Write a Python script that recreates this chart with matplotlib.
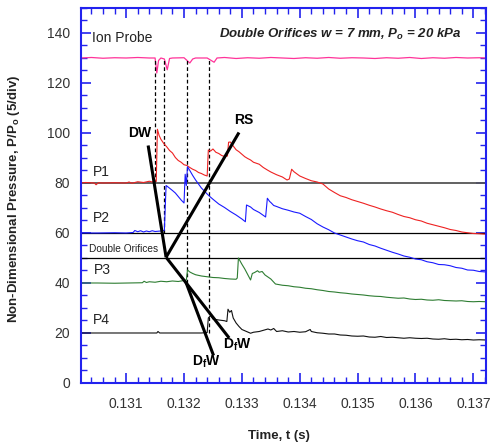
import numpy as np
import matplotlib.pyplot as plt
from matplotlib.ticker import MultipleLocator

plt.rcParams['font.family'] = ['Liberation Sans', 'DejaVu Sans']
plt.rcParams['mathtext.fontset'] = 'custom'
plt.rcParams['mathtext.rm'] = 'Liberation Sans'
plt.rcParams['mathtext.bf'] = 'Liberation Sans:bold'
plt.rcParams['mathtext.it'] = 'Liberation Sans:italic:bold'

# traces: (time s, P/Po)
ion = np.array([(0.13022, 130), (0.1304, 130.2), (0.1306, 129.9), (0.1308, 130.1), (0.1310, 130),
                (0.1312, 130.2), (0.1314, 130), (0.13150, 130), (0.13153, 124), (0.13156, 129),
                (0.13160, 130), (0.13166, 129.6), (0.13171, 125.3), (0.13175, 129.8), (0.1318, 130),
                (0.1320, 130.1), (0.13210, 128), (0.13215, 129.6), (0.1322, 130), (0.1324, 130),
                (0.13252, 128.3), (0.13257, 130), (0.1327, 130.2), (0.1329, 129.8), (0.1331, 130.1),
                (0.1333, 129.9), (0.1335, 130.2), (0.1337, 130), (0.1339, 129.8), (0.1341, 130.1),
                (0.1343, 129.9), (0.1345, 130.2), (0.1347, 129.9), (0.1349, 130.1), (0.1351, 130),
                (0.1353, 129.8), (0.1355, 130.1), (0.1357, 129.9), (0.1359, 130.2), (0.1361, 129.8),
                (0.1363, 130.1), (0.1365, 129.9), (0.1367, 130.2), (0.1369, 130), (0.1371, 130.1),
                (0.13722, 130)])

p1 = np.array([(0.13022, 80), (0.1303, 80.2), (0.13045, 80), (0.13048, 79.3), (0.13052, 80.1),
               (0.1306, 80), (0.1308, 80.1), (0.1310, 80), (0.13105, 80.4), (0.1311, 79.9),
               (0.1312, 80.5), (0.1313, 80.2), (0.1314, 80.7), (0.13145, 80.4), (0.1315, 81),
               (0.13152, 80.6), (0.13154, 101.5), (0.13157, 99), (0.1316, 97.5), (0.13165, 95.8),
               (0.1317, 94.5), (0.13175, 93), (0.1318, 92), (0.13185, 90.2), (0.1319, 89),
               (0.13195, 88.3), (0.1320, 87.3), (0.13205, 87), (0.1321, 86.2), (0.13215, 85.5),
               (0.1322, 85), (0.13225, 84.2), (0.1323, 83.8), (0.13235, 83.2), (0.13240, 82.8),
               (0.13242, 93.2), (0.13246, 92.8), (0.1325, 93.6), (0.13255, 92.3), (0.1326, 91.8),
               (0.13265, 91), (0.1327, 90.6), (0.13275, 90.8), (0.13277, 96.3), (0.1328, 96.4),
               (0.13285, 94.8), (0.1329, 93.3), (0.13295, 92.5), (0.1330, 91.5), (0.13305, 90.5),
               (0.1331, 89.8), (0.13315, 89.2), (0.1332, 88.3), (0.1333, 87.5), (0.13337, 86.2),
               (0.13344, 85.2), (0.1335, 84.4), (0.1336, 83.3), (0.1337, 82.4), (0.13378, 81.2),
               (0.13382, 81.6), (0.13386, 85.5), (0.1339, 84.5), (0.1340, 82.8), (0.1341, 81.8),
               (0.1342, 80.9), (0.1343, 80.4), (0.1344, 79.6), (0.1345, 77.6), (0.1346, 76.2),
               (0.1347, 74.9), (0.1348, 74.2), (0.1349, 73.3), (0.1350, 72.6), (0.1351, 71.9),
               (0.1352, 71.1), (0.1353, 70.4), (0.1354, 69.6), (0.1355, 68.9), (0.1356, 68.3),
               (0.1357, 67.4), (0.1358, 66.6), (0.1359, 66.1), (0.1360, 65.3), (0.1361, 64.8),
               (0.1362, 63.9), (0.1363, 63.3), (0.1364, 62.7), (0.1365, 62.1), (0.1366, 61.4),
               (0.1367, 61), (0.1368, 60.4), (0.1369, 60.1), (0.1370, 59.8), (0.1371, 59.7),
               (0.13722, 59.5)])

p2 = np.array([(0.13022, 60), (0.1305, 60), (0.1308, 60.1), (0.1310, 60), (0.13112, 60.2),
               (0.13115, 61), (0.1312, 60.5), (0.13125, 60.9), (0.1313, 60.4), (0.13135, 60.8),
               (0.1314, 60.5), (0.13145, 60.9), (0.1315, 60.6), (0.1316, 60.8), (0.13166, 61),
               (0.13169, 79), (0.13173, 78.3), (0.1318, 77), (0.13185, 76), (0.1319, 74.6),
               (0.13195, 73.2), (0.1320, 72), (0.13202, 83.5), (0.13204, 79), (0.13206, 86.5),
               (0.1321, 85), (0.13215, 83), (0.1322, 81.2), (0.13225, 79.6), (0.1323, 78),
               (0.13235, 76.8), (0.1324, 75.6), (0.13245, 74.5), (0.1325, 73.5), (0.1326, 71.6),
               (0.1327, 70.2), (0.1328, 68.6), (0.1329, 67.2), (0.1330, 65.6), (0.13306, 64.5),
               (0.13308, 71.2), (0.13315, 70.4), (0.1332, 69.4), (0.1333, 68.2), (0.13341, 66.4),
               (0.13344, 73.9), (0.13348, 72.6), (0.1335, 72.2), (0.13355, 71), (0.1336, 70.6),
               (0.1337, 69.7), (0.1338, 69.1), (0.1339, 68.4), (0.1340, 67.9), (0.1341, 66.6),
               (0.1342, 65.4), (0.1343, 63.7), (0.1344, 62.4), (0.1345, 61.3), (0.1346, 60),
               (0.1347, 59.2), (0.1348, 58.4), (0.1349, 57.6), (0.1350, 56.9), (0.1351, 56.4),
               (0.1352, 55.4), (0.1353, 54.8), (0.1354, 53.9), (0.1355, 53.1), (0.1356, 52.3),
               (0.1357, 51.6), (0.1358, 50.8), (0.1359, 50.3), (0.1360, 49.6), (0.1361, 49.3),
               (0.1362, 48.5), (0.1363, 48.1), (0.1364, 47.4), (0.1365, 47.3), (0.1366, 46.9),
               (0.1367, 46.2), (0.1368, 45.9), (0.1369, 45.2), (0.1370, 45.1), (0.1371, 44.6),
               (0.13722, 44.4)])

p3 = np.array([(0.13022, 40), (0.1305, 40), (0.1308, 39.9), (0.13128, 40.1), (0.13131, 40.7),
               (0.13135, 40.2), (0.1314, 40.5), (0.1315, 40.3), (0.1316, 40.7), (0.1317, 40.5),
               (0.1318, 40.8), (0.1319, 40.6), (0.1320, 41), (0.13204, 41.2), (0.13206, 45.2),
               (0.1321, 44.4), (0.13215, 43.8), (0.1322, 43.3), (0.1323, 42.8), (0.1324, 42.5),
               (0.1325, 42.2), (0.1326, 42.1), (0.1327, 41.8), (0.1328, 41.6), (0.1329, 41.5),
               (0.13292, 42), (0.13294, 50), (0.1330, 47.5), (0.13305, 45.6), (0.1331, 43.4),
               (0.13315, 41.2), (0.13318, 43.8), (0.13322, 44.2), (0.13327, 44.9), (0.1333, 44.3),
               (0.13335, 44.6), (0.1334, 43.2), (0.1335, 41.6), (0.13358, 39.6), (0.1337, 39.1),
               (0.1338, 38.9), (0.1339, 38.5), (0.1340, 38.3), (0.1341, 37.9), (0.1342, 37.7),
               (0.1343, 37.3), (0.1344, 37), (0.1345, 36.6), (0.1346, 36.4), (0.1347, 36.1),
               (0.1348, 35.9), (0.1349, 35.6), (0.1350, 35.4), (0.1351, 35.2), (0.1352, 34.9),
               (0.1353, 34.7), (0.1354, 34.6), (0.1355, 34.3), (0.1356, 34.1), (0.1357, 33.9),
               (0.1358, 34), (0.1359, 33.6), (0.1360, 33.4), (0.1361, 33.5), (0.1362, 33.2),
               (0.1363, 33.1), (0.1364, 33.3), (0.1365, 33), (0.1366, 32.9), (0.1367, 32.8),
               (0.1368, 32.9), (0.1369, 32.6), (0.1370, 32.5), (0.1371, 32.6), (0.13722, 32.5)])

p4 = np.array([(0.13022, 20), (0.1306, 20), (0.1310, 20), (0.1314, 20), (0.13153, 20),
               (0.13155, 20.6), (0.13158, 20), (0.1320, 20), (0.1323, 20), (0.13240, 20.2),
               (0.13242, 26), (0.13246, 27), (0.1325, 25.6), (0.1326, 25.2), (0.1327, 24.9),
               (0.13274, 24.6), (0.13276, 29.5), (0.13279, 28.3), (0.13282, 29), (0.13285, 26),
               (0.1329, 24), (0.13295, 22.6), (0.1330, 21.4), (0.1331, 20.4), (0.13315, 19.9),
               (0.1332, 20.3), (0.1333, 20.6), (0.13345, 21.6), (0.1335, 21.2), (0.13355, 21.8),
               (0.1336, 20.6), (0.1337, 20.9), (0.1338, 20.4), (0.1339, 20.6), (0.1340, 20.3),
               (0.1341, 20.5), (0.13418, 21.4), (0.1342, 20.6), (0.1343, 20.1), (0.1344, 19.9),
               (0.1345, 19.6), (0.1346, 19.6), (0.1347, 19.2), (0.1348, 19.1), (0.1349, 18.8),
               (0.1350, 18.7), (0.1351, 18.8), (0.1352, 18.4), (0.1353, 18.3), (0.1354, 18.6),
               (0.1355, 18.2), (0.1356, 18.3), (0.1357, 18.1), (0.1358, 17.9), (0.1359, 18.1),
               (0.1360, 17.9), (0.1361, 17.8), (0.1362, 17.9), (0.1363, 17.6), (0.1364, 17.5),
               (0.1365, 17.7), (0.1366, 17.4), (0.1367, 17.5), (0.1368, 17.3), (0.1369, 17.4),
               (0.1370, 17.2), (0.1371, 17.3), (0.13722, 17.2)])

# wave diagram segments
dw_in = np.array([(0.13138, 95), (0.13169, 50.3)])
rs = np.array([(0.13169, 50.3), (0.13295, 100.2)])
dfw_a = np.array([(0.13169, 50.3), (0.13278, 18)])
dfw_b = np.array([(0.13203, 40.5), (0.13251, 11)])

# arrival markers
arr_t = [0.1315, 0.13166, 0.13205, 0.13244]
arr_bottom = [80, 60, 40, 20]
ref_levels = [80, 60, 50]

fig = plt.figure(figsize=(4.94, 4.44), dpi=100)
ax = fig.add_axes([0.164, 0.1374, 0.820, 0.8446])

ax.plot(ion[:, 0], ion[:, 1], color='#ff3399', lw=0.9)
for t, b in zip(arr_t, arr_bottom):
    ax.plot([t, t], [b, 130], color='black', lw=0.9, ls=(0, (3, 2)))
ax.axhline(ref_levels[0], color='#555555', lw=1.3)
for lv in ref_levels[1:]:
    ax.axhline(lv, color='black', lw=0.9)

ax.plot(p1[:, 0], p1[:, 1], color='#ee2222', lw=0.8)
ax.plot(p2[:, 0], p2[:, 1], color='#1a1aff', lw=0.8)
ax.plot(p3[:, 0], p3[:, 1], color='#2e7d32', lw=0.8)
ax.plot(p4[:, 0], p4[:, 1], color='#111111', lw=0.8)

for seg in [dw_in, rs, dfw_a, dfw_b]:
    ax.plot(seg[:, 0], seg[:, 1], color='black', lw=2.2, solid_capstyle='butt')

ax.text(0.13041, 137.8, "Ion Probe", fontsize=10, va='center', color='#222222')
ax.text(0.13260, 139.3, r"Double Orifices w = 7 mm, $P_o$ = 20 kPa", fontsize=9.5,
        fontweight='bold', style='italic', va='center', color='#222222')
ax.text(0.13043, 84.5, "P1", fontsize=10, va='center', color='#222222')
ax.text(0.13043, 66, "P2", fontsize=10, va='center', color='#222222')
ax.text(0.13036, 53.4, "Double Orifices", fontsize=7.3, va='center', color='#222222')
ax.text(0.13045, 45.2, "P3", fontsize=10, va='center', color='#222222')
ax.text(0.13043, 25.2, "P4", fontsize=10, va='center', color='#222222')
ax.text(0.13124, 100, "DW", fontsize=10, fontweight='bold', ha='center', va='center')
ax.text(0.13303, 105.2, "RS", fontsize=10, fontweight='bold', ha='center', va='center')
ax.text(0.13214, 8.4, r"D$_\mathbf{f}$W", fontsize=10, fontweight='bold', va='center')
ax.text(0.13267, 15.2, r"D$_\mathbf{f}$W", fontsize=10, fontweight='bold', va='center')

ax.set_xlim(0.13022, 0.13722)
ax.set_ylim(0, 150)
ax.xaxis.set_major_locator(MultipleLocator(0.001))
ax.xaxis.set_minor_locator(MultipleLocator(0.0002))
ax.yaxis.set_major_locator(MultipleLocator(20))
ax.yaxis.set_minor_locator(MultipleLocator(5))
ax.set_xticks([0.131, 0.132, 0.133, 0.134, 0.135, 0.136, 0.137])
ax.set_xticklabels(["0.131", "0.132", "0.133", "0.134", "0.135", "0.136", "0.137"])
ax.set_yticks([0, 20, 40, 60, 80, 100, 120, 140])

ax.tick_params(which='both', direction='in', top=True, right=True, color='#2222ee',
               labelcolor='#333333', labelsize=10)
ax.tick_params(which='major', length=7, width=1.2)
ax.tick_params(which='minor', length=4, width=1)
ax.tick_params(axis='x', pad=10)
ax.tick_params(axis='y', pad=8)
for sp in ax.spines.values():
    sp.set_color('#2222ee')
    sp.set_linewidth(1.5)

ax.set_ylabel(r"Non-Dimensional Pressure, P/P$_\mathbf{o}$ (5/div)", fontsize=9.5,
              fontweight='bold', color='#222222')
ax.yaxis.set_label_coords(-0.146, 0.49)
ax.set_xlabel("Time, t (s)", fontsize=9.5, fontweight='bold', color='#222222')
ax.xaxis.set_label_coords(0.489, -0.125)

fig.savefig("out.png", dpi=100)
